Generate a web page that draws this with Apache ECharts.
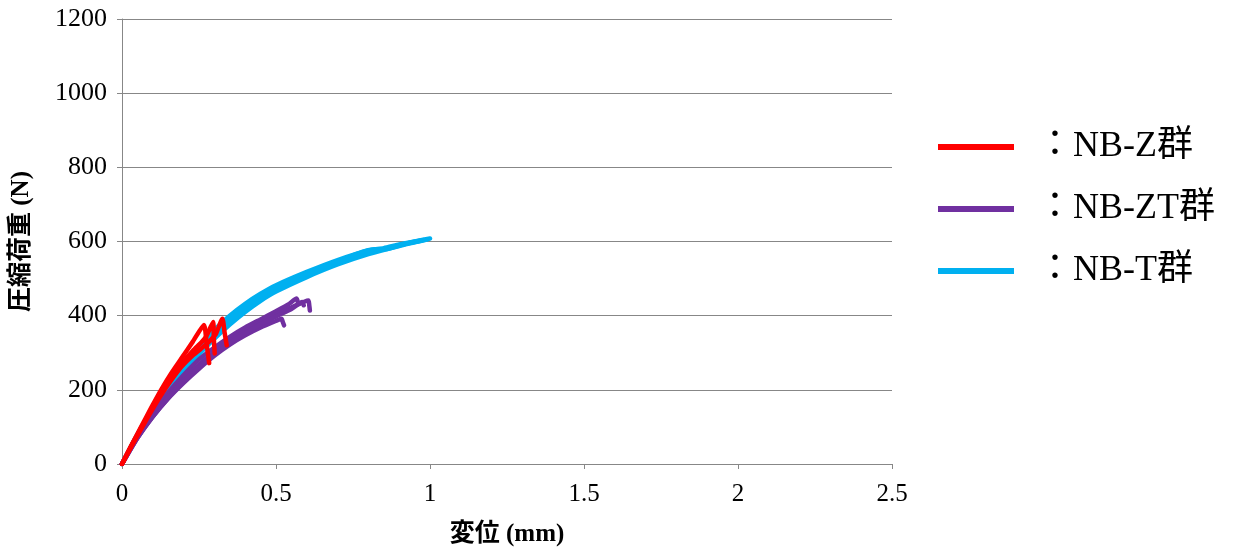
<!DOCTYPE html>
<html>
<head>
<meta charset="utf-8">
<script src="https://cdn.jsdelivr.net/npm/echarts@6/dist/echarts.min.js"></script>
<style>
  html, body { margin: 0; padding: 0; background: #fff; }
  #main { width: 1235px; height: 552px; }
</style>
</head>
<body>
<div id="main"></div>
<script>
// 軸目盛
var xTicks = [0, 0.5, 1, 1.5, 2, 2.5];
var yTicks = [0, 200, 400, 600, 800, 1000, 1200];

// 凡例名
var groupNames = ['：NB-Z群', '：NB-ZT群', '：NB-T群'];

// NB-Z群 (変位mm, 荷重N)
var nbZ1 = [[0,0],[0.03,50],[0.062,100],[0.095,152],[0.127,200],[0.16,245],[0.193,285],[0.23,330],[0.266,375],[0.275,322],[0.283,272]];
var nbZ2 = [[0,0],[0.03,48],[0.062,97],[0.095,147],[0.127,193],[0.16,234],[0.193,270],[0.23,305],[0.26,330],[0.274,345],[0.296,383],[0.298,340],[0.301,298]];
var nbZ3 = [[0,0],[0.03,47],[0.062,94],[0.095,142],[0.127,186],[0.16,226],[0.193,262],[0.23,293],[0.27,320],[0.29,336],[0.305,351],[0.326,392],[0.333,355],[0.34,320]];

// NB-ZT群
var nbZT1 = [[0,0],[0.05,78],[0.1,140],[0.15,193],[0.2,240],[0.25,282],[0.3,314],[0.35,343],[0.4,368],[0.45,390],[0.5,412],[0.54,430],[0.567,446],[0.572,432]];
var nbZT2 = [[0,0],[0.05,72],[0.1,132],[0.15,183],[0.2,228],[0.25,268],[0.3,302],[0.35,332],[0.4,358],[0.45,382],[0.5,403],[0.55,422],[0.605,441],[0.608,428],[0.61,414]];
var nbZT3 = [[0,0],[0.05,70],[0.1,128],[0.15,177],[0.2,219],[0.25,257],[0.3,292],[0.35,322],[0.4,347],[0.45,368],[0.5,386],[0.518,392],[0.522,383],[0.526,374]];
var nbZT4 = [[0,0],[0.05,70],[0.1,128],[0.15,178],[0.2,222],[0.25,262],[0.3,296],[0.35,326],[0.4,353],[0.45,377],[0.5,398],[0.55,418],[0.585,437],[0.59,428]];

// NB-T群
var nbT1 = [[0,0],[0.05,80],[0.1,152],[0.15,215],[0.2,268],[0.25,318],[0.3,362],[0.35,400],[0.4,432],[0.45,459],[0.5,482],[0.6,518],[0.7,550],[0.8,576],[0.85,582],[0.9,592],[0.95,600],[1.0,608]];
var nbT2 = [[0,0],[0.05,77],[0.1,146],[0.15,207],[0.2,258],[0.25,306],[0.3,349],[0.35,387],[0.4,420],[0.45,449],[0.5,473],[0.6,510],[0.7,543],[0.8,570],[0.85,580],[0.9,590],[0.97,602]];
var nbT3 = [[0,0],[0.05,75],[0.1,141],[0.15,199],[0.2,249],[0.25,296],[0.3,338],[0.35,376],[0.4,410],[0.45,440],[0.5,465],[0.6,504],[0.7,538],[0.8,566],[0.9,588],[0.99,605]];
var nbT4 = [[0,0],[0.05,78],[0.1,149],[0.15,211],[0.2,263],[0.25,312],[0.3,355],[0.35,393],[0.4,426],[0.45,454],[0.5,478],[0.6,514],[0.7,546],[0.78,572],[0.82,579],[0.86,580],[0.92,594],[0.98,604]];

var colors = ['#ff0000', '#7030a0', '#00b0f0'];

function mk(name, color, data) {
    return {
        name: name,
        type: 'line',
        data: data,
        symbol: 'none',
        smooth: 0.2,
        color: color,
        itemStyle: { color: color },
        lineStyle: { color: color, width: 4.5, join: 'round', cap: 'round' }
    };
}

var series = [];
[nbT1, nbT2, nbT3, nbT4].forEach(function (d) { series.push(mk(groupNames[2], colors[2], d)); });
[nbZT1, nbZT2, nbZT3, nbZT4].forEach(function (d) { series.push(mk(groupNames[1], colors[1], d)); });
[nbZ1, nbZ2, nbZ3].forEach(function (d) { series.push(mk(groupNames[0], colors[0], d)); });

var serif = "'Liberation Serif', 'Times New Roman', 'Noto Sans CJK JP', serif";
var gray = '#878787';

var chart = echarts.init(document.getElementById('main'));
chart.setOption({
    animation: false,
    backgroundColor: '#fff',
    grid: { left: 122, right: 343, top: 19, bottom: 88, containLabel: false },
    legend: {
        data: groupNames,
        orient: 'vertical',
        left: 938,
        top: 127,
        padding: 0,
        icon: 'rect',
        itemWidth: 76,
        itemHeight: 6,
        itemGap: 22,
        selectedMode: false,
        textStyle: {
            fontFamily: "'Liberation Serif', 'Noto Sans CJK JP', serif",
            fontSize: 36,
            lineHeight: 40,
            color: '#000',
            padding: [0, 0, 0, 18]
        }
    },
    xAxis: {
        type: 'value',
        min: xTicks[0],
        max: xTicks[xTicks.length - 1],
        interval: 0.5,
        name: '変位 (mm)',
        nameLocation: 'middle',
        nameGap: 58,
        nameTextStyle: { fontFamily: serif, fontSize: 25, fontWeight: 'bold', color: '#000' },
        axisLine: { show: true, lineStyle: { color: gray, width: 1 } },
        axisTick: { show: true, length: 5, lineStyle: { color: gray } },
        splitLine: { show: false },
        axisLabel: { fontFamily: serif, fontSize: 25, color: '#000', margin: 18 }
    },
    yAxis: {
        type: 'value',
        min: yTicks[0],
        max: yTicks[yTicks.length - 1],
        interval: 200,
        name: '圧縮荷重 (N)',
        nameLocation: 'middle',
        nameGap: 88,
        nameTextStyle: { fontFamily: serif, fontSize: 25, fontWeight: 'bold', color: '#000' },
        axisLine: { show: true, lineStyle: { color: gray, width: 1 } },
        axisTick: { show: true, length: 5, lineStyle: { color: gray } },
        splitLine: { show: true, lineStyle: { color: gray, width: 1 } },
        axisLabel: {
            fontFamily: serif, fontSize: 26, color: '#000', margin: 15,
            formatter: function (v) { return String(v); }
        }
    },
    series: series
});
</script>
</body>
</html>
